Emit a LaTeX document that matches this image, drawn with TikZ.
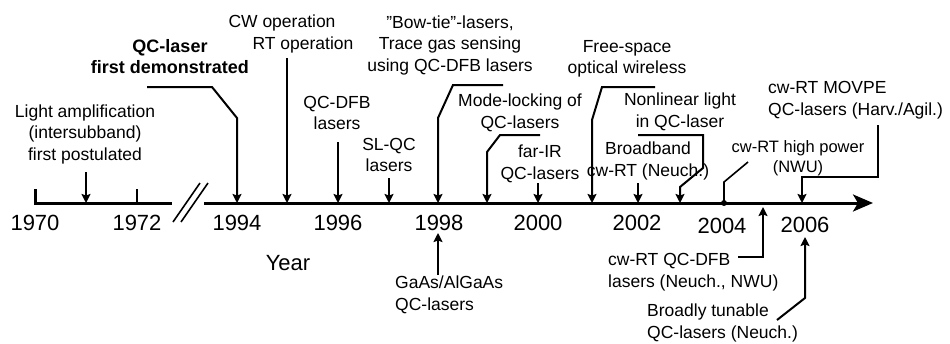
\documentclass[tikz,border=0pt]{standalone}
\usepackage{fontspec}
\setmainfont{Liberation Sans}
\usetikzlibrary{arrows.meta}
\begin{document}
\begin{tikzpicture}[x=1pt,y=-1pt,
  lbl/.style={inner sep=0pt, align=center, font=\fontsize{17.5}{21.5}\selectfont},
  lbll/.style={lbl, align=left},
  yr/.style={inner sep=0pt, font=\fontsize{22}{24}\selectfont},
  con/.style={line width=2pt, -{Stealth[length=9pt,width=9pt,inset=1.5pt]}},
  plainln/.style={line width=1.6pt},
  axisln/.style={line width=3pt}]
\useasboundingbox (0,0) rectangle (950,343);
% axis
\coordinate (a0) at (35,203);
\coordinate (a1) at (172,203);
\coordinate (t70) at (35,189);
\coordinate (t72) at (137,189);
\coordinate (t72b) at (137,203);
\coordinate (b0) at (204,203);
\coordinate (b1) at (873,203);
\draw[axisln] (t70) -- (a0) -- (a1);
\draw[line width=2.2pt] (t72) -- (t72b);
\draw[axisln, -{Stealth[length=20pt,width=17pt,inset=5pt]}] (b0) -- (b1);
% break
\coordinate (k1a) at (173,222); \coordinate (k1b) at (200,183);
\coordinate (k2a) at (181,222); \coordinate (k2b) at (208,183);
\draw[plainln] (k1a) -- (k1b);
\draw[plainln] (k2a) -- (k2b);
% years
\node[yr] (y70) at (35,223) {1970};
\node[yr] (y72) at (137,223) {1972};
\node[yr] (y94) at (237,223) {1994};
\node[yr] (y96) at (338,223) {1996};
\node[yr] (y98) at (439,223) {1998};
\node[yr] (y00) at (538,223) {2000};
\node[yr] (y02) at (637,223) {2002};
\node[yr] (y04) at (722,226) {2004};
\node[yr] (y06) at (805,225) {2006};
\node[yr] (year) at (288,263) {Year};
% labels
\node[lbl] (l71) at (85,134) {Light amplification\\(intersubband)\\first postulated};
\node[lbl, font=\bfseries\fontsize{18}{21}\selectfont] (l94) at (170,57) {QC-laser\\first demonstrated};
\node[lbl] (l95a) at (282,23) {CW operation};
\node[lbl] (l95b) at (303,45) {RT operation};
\node[lbl] (l96) at (337,113) {QC-DFB\\lasers};
\node[lbl] (l97) at (389,155) {SL-QC\\lasers};
\node[lbl] (l98) at (450,45) {\symbol{34}Bow-tie\symbol{34}-lasers,\\Trace gas sensing\\using QC-DFB lasers};
\node[lbl] (l99) at (520,113) {Mode-locking of\\QC-lasers};
\node[lbl] (l00) at (540,164) {far-IR\\QC-lasers};
\node[lbl] (l01) at (627,59) {Free-space\\optical wireless};
\node[lbl] (l02) at (648,161) {Broadband\\cw-RT (Neuch.)};
\node[lbl] (l03) at (680,112) {Nonlinear light\\in QC-laser};
\node[lbl, font=\fontsize{16.5}{20}\selectfont] (l04) at (798,158) {cw-RT high power\\(NWU)};
\node[lbll, anchor=west] (l06a) at (768,100) {cw-RT MOVPE\\QC-lasers (Harv./Agil.)};
\node[lbll, anchor=west] (l05) at (608,272) {cw-RT QC-DFB\\lasers (Neuch., NWU)};
\node[lbll, anchor=west] (l06b) at (647,323) {Broadly tunable\\QC-lasers (Neuch.)};
\node[lbll, anchor=west] (l98b) at (395,295) {GaAs/AlGaAs\\QC-lasers};
% connectors
\coordinate (s71) at (86,172); \coordinate (x71) at (86,203);
\draw[con] (s71) -- (x71);
\coordinate (c94a) at (147,87); \coordinate (c94b) at (212,87); \coordinate (c94c) at (237,118); \coordinate (x94) at (237,203);
\draw[con] (c94a) -- (c94b) -- (c94c) -- (x94);
\coordinate (s95) at (287,58); \coordinate (x95) at (287,203);
\draw[con] (s95) -- (x95);
\coordinate (s96) at (338,142); \coordinate (x96) at (338,203);
\draw[con] (s96) -- (x96);
\coordinate (s97) at (389,178); \coordinate (x97) at (389,203);
\draw[con] (s97) -- (x97);
\coordinate (c98a) at (503,85); \coordinate (c98b) at (453,85); \coordinate (c98c) at (438,118); \coordinate (x98) at (438,203);
\draw[con] (c98a) -- (c98b) -- (c98c) -- (x98);
\coordinate (c99a) at (540,135); \coordinate (c99b) at (500,135); \coordinate (c99c) at (487,152); \coordinate (x99) at (487,203);
\draw[con] (c99a) -- (c99b) -- (c99c) -- (x99);
\coordinate (s00) at (538,183); \coordinate (x00) at (538,203);
\draw[con] (s00) -- (x00);
\coordinate (c01a) at (655,87); \coordinate (c01b) at (602,87); \coordinate (c01c) at (592,120); \coordinate (x01) at (592,203);
\draw[con] (c01a) -- (c01b) -- (c01c) -- (x01);
\coordinate (s02) at (638,183); \coordinate (x02) at (638,203);
\draw[con] (s02) -- (x02);
\coordinate (c03a) at (638,135); \coordinate (c03b) at (703,135); \coordinate (c03c) at (703,168); \coordinate (c03d) at (680,187); \coordinate (x03) at (680,203);
\draw[con] (c03a) -- (c03b) -- (c03c) -- (c03d) -- (x03);
\coordinate (c04a) at (748,162); \coordinate (c04b) at (724,182); \coordinate (x04) at (724,203);
\draw[plainln] (c04a) -- (c04b) -- (x04);
\fill (x04) circle (3pt);
\coordinate (c05a) at (738,257); \coordinate (c05b) at (763,257); \coordinate (x05) at (763,207);
\draw[con] (c05a) -- (c05b) -- (x05);
\coordinate (c06a) at (878,125); \coordinate (c06b) at (878,177); \coordinate (c06c) at (802,177); \coordinate (x06) at (802,203);
\draw[con] (c06a) -- (c06b) -- (c06c) -- (x06);
\coordinate (c06d) at (777,320); \coordinate (c06e) at (805,298); \coordinate (x06b) at (805,237);
\draw[con] (c06d) -- (c06e) -- (x06b);
\coordinate (s98b) at (438,275); \coordinate (x98b) at (438,233);
\draw[con] (s98b) -- (x98b);
\end{tikzpicture}
\end{document}
